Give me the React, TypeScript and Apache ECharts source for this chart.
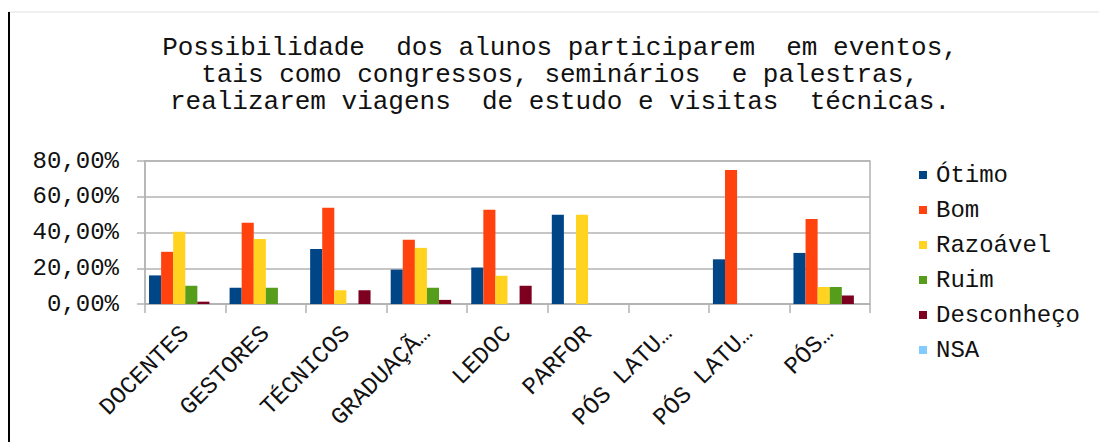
import React, { useEffect, useRef } from "react";
import * as echarts from "echarts";

const categories = ["DOCENTES", "GESTORES", "TÉCNICOS", "GRADUAÇÃ…", "LEDOC", "PARFOR", "PÓS LATU…", "PÓS LATU…", "PÓS…"];
const seriesNames = ["Ótimo", "Bom", "Razoável", "Ruim", "Desconheço", "NSA"];
const otimo = [16.0, 9.09, 30.77, 19.23, 20.41, 50.0, 0, 25.0, 28.57];
const bom = [29.2, 45.45, 53.85, 35.9, 52.7, 0, 0, 75.0, 47.62];
const razoavel = [40.4, 36.36, 7.69, 31.4, 15.8, 50.0, 0, 0, 9.52];
const ruim = [10.2, 9.09, 0, 9.09, 0, 0, 0, 0, 9.52];
const desconheco = [1.3, 0, 7.69, 2.3, 10.2, 0, 0, 0, 4.76];
const nsa = [0, 0, 0, 0, 0, 0, 0, 0, 0];
const yTicks = [0, 20, 40, 60, 80];
const titleText =
  "Possibilidade  dos alunos participarem  em eventos,\ntais como congressos, seminários  e palestras,\nrealizarem viagens  de estudo e visitas  técnicas.";

const colors = ["#004586", "#ff420e", "#ffd320", "#579d1c", "#7e0021", "#83caff"];
const FONT = "'Liberation Mono', 'Courier New', monospace";

export default function App() {
  const ref = useRef<HTMLDivElement>(null);
  useEffect(() => {
    if (!ref.current) return;
    const chart = echarts.init(ref.current, undefined, { renderer: "svg" });
    const values = [otimo, bom, razoavel, ruim, desconheco, nsa];
    chart.setOption({
      animation: false,
      color: colors,
      graphic: [
        { type: "line", shape: { x1: 0, y1: 4, x2: 1099, y2: 4 }, style: { stroke: "#e0e0e0", lineWidth: 1 } },
        { type: "rect", shape: { x: 0, y: 4, width: 2, height: 430 }, style: { fill: "#000" } },
        {
          type: "text",
          x: 552,
          y: 26,
          style: {
            text: titleText,
            textAlign: "center",
            textVerticalAlign: "top",
            fontFamily: FONT,
            fontSize: 26,
            lineHeight: 27,
            fill: "#111",
          },
        },
      ],
      legend: {
        orient: "vertical",
        left: 906,
        top: 150,
        itemWidth: 8,
        itemHeight: 8,
        itemGap: 11,
        icon: "rect",
        data: seriesNames,
        textStyle: { fontFamily: FONT, fontSize: 24, color: "#111", padding: [0, 0, 0, 4] },
      },
      grid: {
        left: 137,
        right: 237,
        top: 153,
        bottom: 138,
        show: true,
        borderColor: "#b3b3b3",
        borderWidth: 1.5,
      },
      xAxis: {
        type: "category",
        data: categories,
        axisLine: { lineStyle: { color: "#b3b3b3", width: 1.5 } },
        axisTick: { show: true, length: 9, lineStyle: { color: "#b3b3b3", width: 1.5 } },
        axisLabel: {
          rotate: 45,
          interval: 0,
          margin: 26,
          fontFamily: FONT,
          fontSize: 24,
          color: "#111",
        },
      },
      yAxis: {
        type: "value",
        min: yTicks[0],
        max: yTicks[yTicks.length - 1],
        interval: 20,
        axisLine: { show: true, lineStyle: { color: "#b3b3b3", width: 1.5 } },
        axisTick: { show: true, length: 8, lineStyle: { color: "#b3b3b3", width: 1.5 } },
        splitLine: { lineStyle: { color: "#b3b3b3", width: 1.5 } },
        axisLabel: {
          margin: 26,
          fontFamily: FONT,
          fontSize: 24,
          color: "#111",
          formatter: (v: number) => v.toFixed(2).replace(".", ",") + "%",
        },
      },
      series: seriesNames.map((name, i) => ({
        name,
        type: "bar",
        data: values[i],
        barGap: "0%",
        barCategoryGap: "10%",
      })),
    });
    return () => chart.dispose();
  }, []);
  return <div ref={ref} style={{ width: 1099, height: 434 }} />;
}
